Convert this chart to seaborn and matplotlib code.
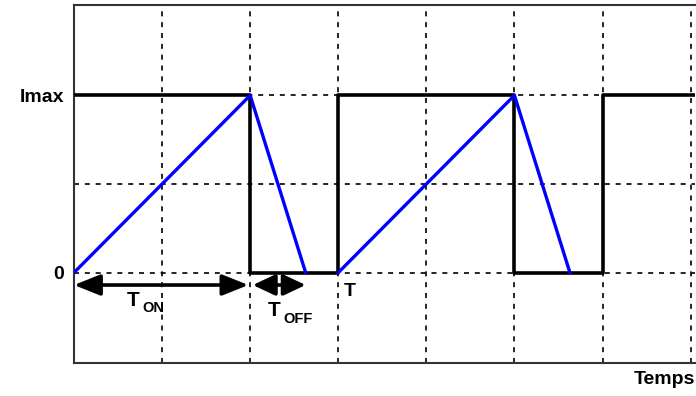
import matplotlib
matplotlib.use("Agg")
import matplotlib.pyplot as plt
import seaborn as sns
import pandas as pd

# Data
square_t = [0, 2, 2, 3, 3, 5, 5, 6, 6, 7.05]
square_i = [1, 1, 0, 0, 1, 1, 0, 0, 1, 1]
tri_t = [0, 2, 2.63, 3, 5, 5.63]
tri_i = [0, 1, 0, 0, 1, 0]
tri_cycle = [1, 1, 1, 2, 2, 2]
t_on = 2.0
t_off_end = 2.63
period = 3.0
ytick_vals = [0, 0.5, 1]
ytick_labels = ["0", "", "Imax"]

sns.set_style("white")
plt.rcParams["font.family"] = ["Liberation Sans", "DejaVu Sans"]
plt.rcParams["text.color"] = "black"
plt.rcParams["ytick.color"] = "black"

fig = plt.figure(figsize=(6.96, 3.96), dpi=100)
ax = fig.add_axes([74/696, 1 - 363/396, (695 - 74)/696, (363 - 5)/396])

sq = pd.DataFrame({"t": square_t, "i": square_i})
tri = pd.DataFrame({"t": tri_t, "i": tri_i, "c": tri_cycle})

ax.set_xlim(0, 7.05)
ax.set_ylim(-0.51, 1.51)
ax.set_xticks(range(1, 8))
ax.set_yticks(ytick_vals)
ax.set_yticklabels(ytick_labels, fontsize=14, fontweight="bold", color="black")
ax.set_xticklabels([])
ax.tick_params(length=0, pad=7)
ax.grid(True, color="black", linestyle=(0, (3, 3.5)), linewidth=1.2)
ax.set_axisbelow(True)

sns.lineplot(data=sq, x="t", y="i", sort=False, estimator=None, color="black",
             linewidth=2.6, ax=ax, zorder=3)
sns.lineplot(data=tri, x="t", y="i", units="c", sort=False, estimator=None,
             color="#0000ff", linewidth=2.4, ax=ax, zorder=4)

ax.set_xlabel("")
ax.set_ylabel("")
for s in ["left", "top", "bottom"]:
    ax.spines[s].set_visible(True)
    ax.spines[s].set_color("#333333")
    ax.spines[s].set_linewidth(1.5)
ax.spines["right"].set_visible(False)

arrow_y = -0.07
ax.annotate("", xy=(t_on - 0.02, arrow_y), xytext=(0.0, arrow_y),
            arrowprops=dict(arrowstyle="<|-|>,head_length=1.0,head_width=0.4",
                            color="black", lw=2.6, shrinkA=0, shrinkB=0, mutation_scale=16))
ax.annotate("", xy=(t_off_end, arrow_y), xytext=(t_on + 0.03, arrow_y),
            arrowprops=dict(arrowstyle="<|-|>,head_length=0.85,head_width=0.4",
                            color="black", lw=2.6, shrinkA=0, shrinkB=0, mutation_scale=16))

ax.text(0.6, -0.155, "T", fontsize=15, fontweight="bold", va="center", ha="left")
ax.text(0.78, -0.2, "ON", fontsize=10.5, fontweight="bold", va="center", ha="left")
ax.text(2.2, -0.215, "T", fontsize=15, fontweight="bold", va="center", ha="left")
ax.text(2.38, -0.26, "OFF", fontsize=10.5, fontweight="bold", va="center", ha="left")
ax.text(period + 0.06, -0.105, "T", fontsize=14, fontweight="bold", va="center", ha="left")

ax.text(1.0, -0.022, "Temps", transform=ax.transAxes, fontsize=14, fontweight="bold",
        ha="right", va="top")

fig.savefig("out.png", dpi=100)
